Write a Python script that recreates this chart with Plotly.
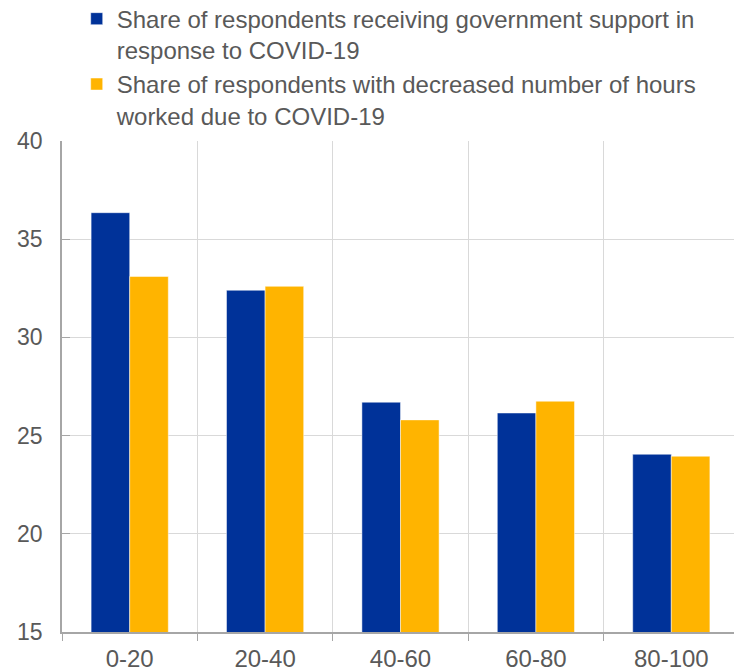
import plotly.graph_objects as go

# Income quintile groups (percentiles)
categories = ["0-20", "20-40", "40-60", "60-80", "80-100"]

# Shares of respondents, in percent
support_share = [36.35, 32.4, 26.7, 26.15, 24.05]
hours_share = [33.1, 32.6, 25.8, 26.75, 23.95]

series_names = [
    "Share of respondents receiving government support in<br>response to COVID-19",
    "Share of respondents with decreased number of hours<br>worked due to COVID-19",
]

y_ticks = [15, 20, 25, 30, 35, 40]

BLUE = "#003299"
YELLOW = "#FFB400"
TEXT = "#595959"
GRID = "#D9D9D9"
AXIS = "#A6A6A6"
FONT = "Liberation Sans, Arial, sans-serif"

fig = go.Figure()
fig.add_trace(go.Bar(
    x=categories, y=support_share, name=series_names[0],
    marker=dict(color=BLUE, line=dict(color="rgba(255,255,255,0.6)", width=0.8)),
))
fig.add_trace(go.Bar(
    x=categories, y=hours_share, name=series_names[1],
    marker=dict(color=YELLOW, line=dict(color="rgba(255,255,255,0.6)", width=0.8)),
))

W, H = 734, 671
M_TOP, M_BOTTOM = 140.5, 39.3
PLOT_H = H - M_TOP - M_BOTTOM

fig.update_layout(
    width=W, height=H,
    margin=dict(l=62, r=0, t=M_TOP, b=M_BOTTOM, autoexpand=False),
    paper_bgcolor="white", plot_bgcolor="white",
    font=dict(family=FONT, color=TEXT, size=24),
    barmode="group", bargap=0.43, bargroupgap=0,
    showlegend=True,
    legend=dict(
        x=76.7 / W, xref="container", xanchor="left",
        y=1 + (M_TOP + 4) / PLOT_H, yref="paper", yanchor="top",
        orientation="v", valign="top", traceorder="normal",
        font=dict(family=FONT, color=TEXT, size=24),
        bgcolor="rgba(0,0,0,0)", tracegroupgap=0, itemwidth=30,
    ),
    xaxis=dict(
        type="category", range=[-0.5, -0.5 + (W - 62) / 135.4],
        showgrid=True, gridcolor=GRID, gridwidth=1,
        tickson="boundaries", ticks="outside", ticklen=7, tickcolor=AXIS,
        showline=True, linecolor=AXIS, linewidth=2,
        tickfont=dict(size=24, color=TEXT), ticklabelstandoff=4,
    ),
    yaxis=dict(
        range=[15, 40], tickvals=y_ticks,
        showgrid=True, gridcolor=GRID, gridwidth=1,
        ticks="inside", ticklen=8, tickcolor=AXIS,
        showline=True, linecolor=AXIS, linewidth=1.5,
        tickfont=dict(size=23, color=TEXT), ticklabelstandoff=13,
        zeroline=False,
    ),
)

fig.write_html("out.html")
